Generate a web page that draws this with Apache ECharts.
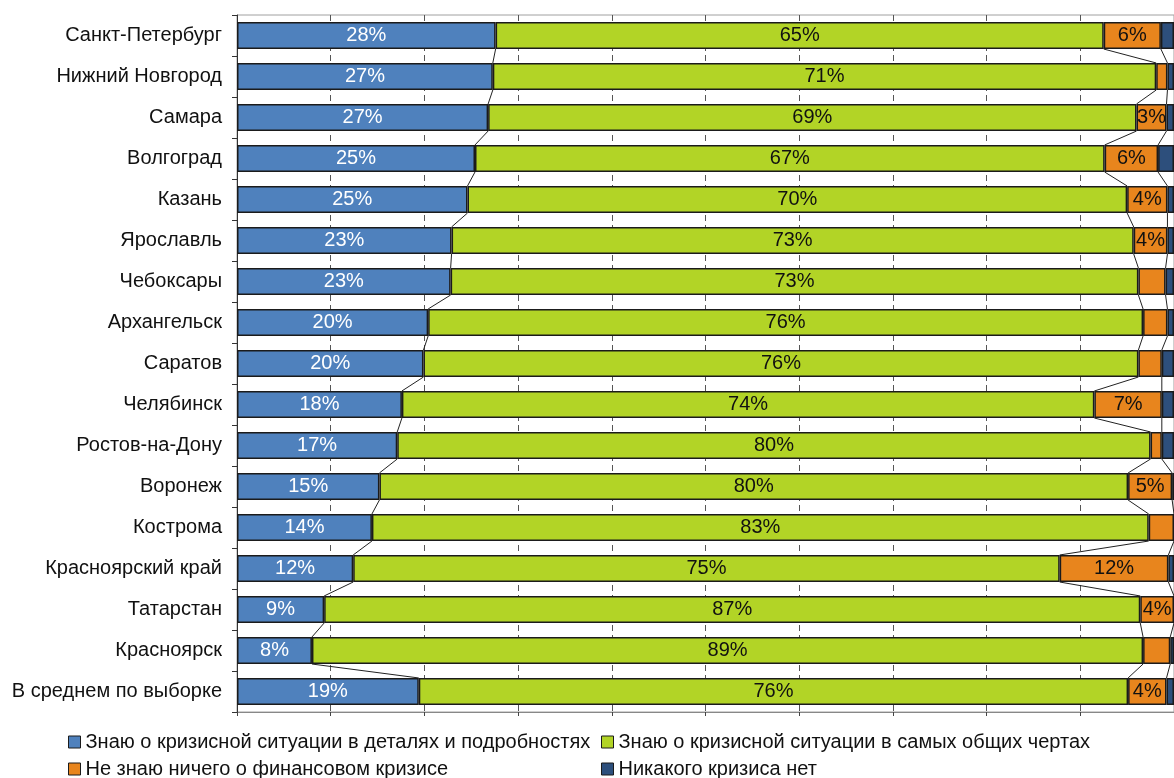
<!DOCTYPE html>
<html>
<head>
<meta charset="utf-8">
<script src="https://cdn.jsdelivr.net/npm/echarts@6/dist/echarts.min.js"></script>
<style>
  html, body { margin: 0; padding: 0; background: #fff; }
  #chart { width: 1174px; height: 778px; }
</style>
</head>
<body>
<div id="chart"></div>
<script>
// Осведомлённость о финансовом кризисе по городам, % опрошенных
const categories = [
  'Санкт-Петербург', 'Нижний Новгород', 'Самара', 'Волгоград', 'Казань',
  'Ярославль', 'Чебоксары', 'Архангельск', 'Саратов', 'Челябинск',
  'Ростов-на-Дону', 'Воронеж', 'Кострома', 'Красноярский край', 'Татарстан',
  'Красноярск', 'В среднем по выборке'
];
const detailed  = [27.6, 27.3, 26.8, 25.4, 24.6, 22.9, 22.8, 20.4, 19.9, 17.6, 17.1, 15.2, 14.4, 12.4, 9.3, 8.0, 19.4];
const general   = [64.9, 70.8, 69.2, 67.2, 70.4, 72.8, 73.4, 76.3, 76.3, 73.9, 80.4, 79.9, 82.9, 75.4, 87.1, 88.7, 75.7];
const unaware   = [6.1, 1.2, 3.2, 5.7, 4.3, 3.6, 2.9, 2.6, 2.5, 7.2, 1.2, 4.7, 2.7, 11.6, 3.6, 2.9, 4.1];
const noCrisis  = [1.4, 0.7, 0.8, 1.7, 0.7, 0.7, 0.9, 0.7, 1.3, 1.3, 1.3, 0.2, 0.0, 0.6, 0.0, 0.4, 0.8];

const seriesNames = [
  'Знаю о кризисной ситуации в деталях и подробностях',
  'Знаю о кризисной ситуации в самых общих чертах',
  'Не знаю ничего о финансовом кризисе',
  'Никакого кризиса нет'
];

const FONT = '"Liberation Sans", Arial, sans-serif';
const FONT_SIZE = 20;
const colors = ['#4F81BD', '#B2D426', '#E8851D', '#2D4F7C'];
const BAR_SHARE = 0.66;

function barSeries(name, data, color, labelColor) {
  return {
    name: name,
    type: 'bar',
    stack: 'total',
    data: data,
    barWidth: (BAR_SHARE * 100) + '%',
    itemStyle: { color: color, borderColor: '#1b1b1b', borderWidth: 1.5 },
    label: {
      show: true,
      position: 'inside',
      fontFamily: FONT,
      fontSize: FONT_SIZE,
      color: labelColor,
      formatter: function (p) {
        return p.value >= 3 ? Math.round(p.value) + '%' : '';
      }
    },
    emphasis: { disabled: true },
    z: 3
  };
}

// cumulative boundaries between segments (after 1st, 2nd, 3rd series)
const stacks = [detailed, general, unaware];
const boundaries = [];
(function () {
  const run = categories.map(() => 0);
  stacks.forEach(function (arr) {
    arr.forEach(function (v, i) { run[i] += v; });
    boundaries.push(run.slice());
  });
})();

// series lines linking segment edges of neighbouring bars
const seriesLines = {
  type: 'custom',
  coordinateSystem: 'cartesian2d',
  silent: true,
  z: 2,
  encode: { x: 0, y: 1 },
  data: categories.slice(0, -1).map(function (_, i) { return [0, i]; }),
  renderItem: function (params, api) {
    const i = api.value(1);
    const half = api.size([0, 1])[1] * BAR_SHARE / 2;
    const children = boundaries.map(function (b) {
      const p0 = api.coord([b[i], i]);
      const p1 = api.coord([b[i + 1], i + 1]);
      return {
        type: 'line',
        shape: { x1: p0[0], y1: p0[1] + half, x2: p1[0], y2: p1[1] - half },
        style: { stroke: '#222', lineWidth: 1 }
      };
    });
    return { type: 'group', children: children };
  }
};

// one legend per entry, laid out as two columns of two rows
function legendItem(name, left, top) {
  return {
    left: left,
    top: top,
    data: [name],
    itemWidth: 12,
    itemHeight: 12,
    itemGap: 0,
    icon: 'rect',
    selectedMode: false,
    padding: 0,
    itemStyle: { borderColor: '#1b1b1b', borderWidth: 1 },
    textStyle: { fontFamily: FONT, fontSize: FONT_SIZE, color: '#111' }
  };
}

const chart = echarts.init(document.getElementById('chart'), null, { renderer: 'canvas' });
chart.setOption({
  animation: false,
  backgroundColor: '#fff',
  grid: {
    left: 237, top: 15, width: 940, height: 697,
    show: true, borderColor: '#a0a0a0', borderWidth: 1, backgroundColor: 'transparent'
  },
  legend: [
    legendItem(seriesNames[0], 68, 732),
    legendItem(seriesNames[1], 601, 732),
    legendItem(seriesNames[2], 68, 759),
    legendItem(seriesNames[3], 601, 759)
  ],
  xAxis: {
    type: 'value',
    min: 0, max: 100, interval: 10,
    axisLine: { show: true, lineStyle: { color: '#888', width: 1 } },
    axisTick: { show: true, length: 4, lineStyle: { color: '#444' } },
    axisLabel: { show: false },
    splitLine: { show: true, lineStyle: { color: '#555', type: [6, 4], width: 1 } }
  },
  yAxis: {
    type: 'category',
    inverse: true,
    data: categories,
    axisLine: { show: true, lineStyle: { color: '#333', width: 1 } },
    axisTick: { show: true, length: 5, lineStyle: { color: '#333' } },
    axisLabel: { fontFamily: FONT, fontSize: FONT_SIZE, color: '#111', margin: 15 },
    splitLine: { show: false }
  },
  series: [
    barSeries(seriesNames[0], detailed, colors[0], '#ffffff'),
    barSeries(seriesNames[1], general, colors[1], '#111'),
    barSeries(seriesNames[2], unaware, colors[2], '#111'),
    barSeries(seriesNames[3], noCrisis, colors[3], '#fff'),
    seriesLines
  ]
});
</script>
</body>
</html>
